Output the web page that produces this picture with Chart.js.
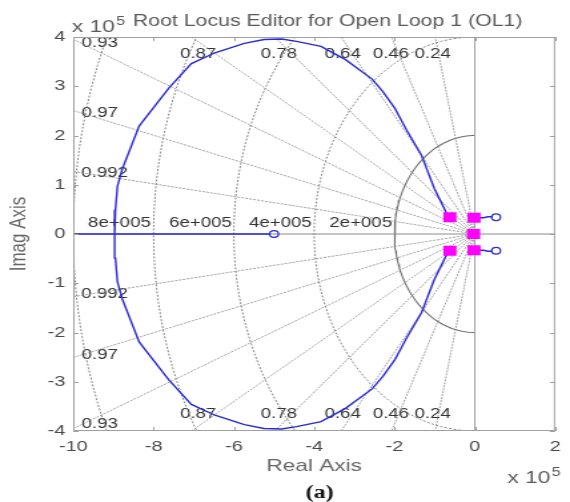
<!DOCTYPE html>
<html><head><meta charset="utf-8">
<script src="https://cdn.jsdelivr.net/npm/chart.js@4.4.1/dist/chart.umd.min.js"></script>
<style>
html,body{margin:0;padding:0;background:#fff;overflow:hidden}
</style></head><body>
<canvas id="c" width="428" height="502" style="display:block;width:570px;height:502px"></canvas>
<script>
// ---------------- data (all values in units of 1e5) ----------------
const xTicks = [-10, -8, -6, -4, -2, 0, 2];
const yTicks = [-4, -3, -2, -1, 0, 1, 2, 3, 4];
const dampingRatios = [0.992, 0.97, 0.93, 0.87, 0.78, 0.64, 0.46, 0.24];
const naturalFreqs = [2, 4, 6, 8, 10];
const solidFreqs = [2];
const freqLabels = ['8e+005', '6e+005', '4e+005', '2e+005'];
// upper locus branch, from complex pole to break-in point
const locusReal = [-0.62, -0.72, -1.01, -1.33, -1.70, -1.99, -2.29, -2.55, -3.22, -3.83, -4.44, -4.81, -5.25, -5.74, -6.47, -7.06, -7.62, -8.36, -8.78, -8.90, -8.95, -8.97];
const locusImag = [0.34, 0.45, 0.93, 1.60, 2.11, 2.55, 2.89, 3.14, 3.54, 3.81, 3.91, 3.96, 3.95, 3.87, 3.68, 3.46, 2.96, 2.19, 1.32, 0.97, 0.49, 0];
const realAxisLocus = [-10, -5.1];
const branchReal = [-0.02, 0.22, 0.32, 0.44];
const branchImag = [0.33, 0.33, 0.35, 0.35];
const polesReal = [-0.62, -0.62, -0.02, -0.02, -0.03];
const polesImag = [0.34, -0.34, 0.33, -0.33, 0.0];
const zerosReal = [-5.0, 0.53, 0.53];
const zerosImag = [0.0, 0.34, -0.34];

// label anchors (data coordinates)
const dampLabelText = ['0.93', '0.87', '0.78', '0.64', '0.46', '0.24', '0.97', '0.992'];
const dampLabelX = [-9.34, -6.89, -4.88, -3.29, -2.09, -1.05, -9.34, -9.22];
const dampLabelY = [3.87, 3.66, 3.66, 3.66, 3.66, 3.66, 2.45, 1.23];
const freqLabelX = [-8.85, -6.83, -4.84, -2.84];
const freqLabelY = 0.22;

// ---------------- styling ----------------
const FONT = '"Liberation Sans", Arial, Helvetica, sans-serif';
const GRID = '#858585';
const BLUE = '#2a2ad8';
const AXIS = '#a0a0a0';
const RAY = 20;

const datasets = [];
dampingRatios.forEach(z => {
  const w = Math.sqrt(1 - z * z);
  [1, -1].forEach(sg => datasets.push({
    data: [{x: 0, y: 0}, {x: -z * RAY, y: sg * w * RAY}],
    showLine: true, borderColor: '#8c8c8c', borderWidth: 0.8, borderDash: [2, 1],
    pointRadius: 0, order: 10
  }));
});
naturalFreqs.forEach(r => {
  const pts = [];
  for (let a = 90; a <= 270; a += 2) {
    const t = a * Math.PI / 180;
    pts.push({x: r * Math.cos(t), y: r * Math.sin(t)});
  }
  const solid = solidFreqs.includes(r);
  datasets.push({
    data: pts, showLine: true, borderColor: solid ? '#6e6e6e' : GRID,
    borderWidth: solid ? 1.1 : 1, borderDash: solid ? [] : [2, 1.5],
    pointRadius: 0, order: 10
  });
});
// axis lines
datasets.push({data: [{x: xTicks[0], y: 0}, {x: xTicks[xTicks.length - 1], y: 0}], showLine: true,
  borderColor: '#8a8a8a', borderWidth: 1, pointRadius: 0, order: 9});
datasets.push({data: [{x: 0, y: yTicks[0]}, {x: 0, y: yTicks[yTicks.length - 1]}], showLine: true,
  borderColor: AXIS, borderWidth: 1, pointRadius: 0, order: 9});
// root locus
const upper = locusReal.map((v, i) => ({x: v, y: locusImag[i]}));
const lower = locusReal.map((v, i) => ({x: v, y: -locusImag[i]}));
[upper, lower].forEach(d => datasets.push({data: d, showLine: true, borderColor: BLUE,
  borderWidth: 1.4, pointRadius: 0, order: 2}));
datasets.push({data: realAxisLocus.map(v => ({x: v, y: 0})), showLine: true, borderColor: BLUE,
  borderWidth: 1.4, pointRadius: 0, order: 2});
[1, -1].forEach(sg => datasets.push({data: branchReal.map((v, i) => ({x: v, y: sg * branchImag[i]})),
  showLine: true, borderColor: BLUE, borderWidth: 1.4, pointRadius: 0, order: 2}));
// poles / zeros
datasets.push({data: polesReal.map((v, i) => ({x: v, y: polesImag[i]})), showLine: false,
  pointStyle: 'rect', pointRadius: 7, backgroundColor: '#ff00ff', borderColor: '#ff00ff', borderWidth: 0, order: 0});
datasets.push({data: zerosReal.map((v, i) => ({x: v, y: zerosImag[i]})), showLine: false,
  pointStyle: 'circle', pointRadius: 3.3, backgroundColor: 'rgba(0,0,0,0)', borderColor: BLUE, borderWidth: 1.2, order: 0});

const decor = {
  id: 'decor',
  beforeDatasetsDraw(chart) {
    const {ctx, scales: {x, y}} = chart;
    ctx.save();
    ctx.fillStyle = '#333';
    ctx.font = '14px ' + FONT;
    ctx.textAlign = 'center';
    ctx.textBaseline = 'middle';
    dampLabelText.forEach((t, i) => {
      ctx.fillText(t, x.getPixelForValue(dampLabelX[i]), y.getPixelForValue(dampLabelY[i]));
      ctx.fillText(t, x.getPixelForValue(dampLabelX[i]), y.getPixelForValue(-dampLabelY[i]));
    });
    freqLabels.forEach((t, i) => ctx.fillText(t, x.getPixelForValue(freqLabelX[i]), y.getPixelForValue(freqLabelY)));
    ctx.restore();
  },
  afterDatasetsDraw(chart) {
    const {ctx, chartArea: a, scales: {x, y}} = chart;
    ctx.save();
    ctx.strokeStyle = AXIS;
    ctx.lineWidth = 1;
    ctx.strokeRect(a.left + 0.5, a.top + 0.5, a.right - a.left - 1, a.bottom - a.top - 1);
    ctx.beginPath();
    const L = 4;
    x.ticks.forEach(t => {
      const px = Math.round(x.getPixelForValue(t.value)) + 0.5;
      ctx.moveTo(px, a.bottom); ctx.lineTo(px, a.bottom - L);
      ctx.moveTo(px, a.top); ctx.lineTo(px, a.top + L);
    });
    y.ticks.forEach(t => {
      const py = Math.round(y.getPixelForValue(t.value)) + 0.5;
      ctx.moveTo(a.left, py); ctx.lineTo(a.left + L, py);
      ctx.moveTo(a.right, py); ctx.lineTo(a.right - L, py);
    });
    ctx.stroke();
    ctx.restore();
  },
  afterDraw(chart) {
    const {ctx} = chart;
    ctx.save();
    ctx.fillStyle = '#5a5a5a';
    ctx.textBaseline = 'middle';
    ctx.textAlign = 'center';
    ctx.font = '16px ' + FONT;
    ctx.fillText('Root Locus Editor for Open Loop 1 (OL1)', 246, 22);
    ctx.textBaseline = 'alphabetic';
    ctx.textAlign = 'left';
    const expo = (x0, base) => {
      ctx.font = '17px ' + FONT;
      ctx.fillText('x 10', x0, base);
      const w = ctx.measureText('x 10').width;
      ctx.font = '12px ' + FONT;
      ctx.fillText('5', x0 + w + 1, base - 7);
    };
    expo(54, 32);
    expo(381, 483);
    ctx.fillStyle = '#111';
    ctx.textAlign = 'center';
    ctx.font = 'bold 18px "Liberation Serif", "Times New Roman", serif';
    ctx.fillText('(a)', 240, 498);
    ctx.restore();
  }
};

new Chart(document.getElementById('c'), {
  type: 'scatter',
  data: {datasets},
  options: {
    responsive: false,
    animation: false,
    events: [],
    layout: {padding: {top: 37, right: 5, left: 0, bottom: 0}},
    plugins: {legend: {display: false}, tooltip: {enabled: false}, title: {display: false}},
    scales: {
      x: {
        type: 'linear', min: xTicks[0], max: xTicks[xTicks.length - 1], position: 'bottom',
        afterBuildTicks: s => { s.ticks = xTicks.map(v => ({value: v})); },
        afterFit: s => { s.height = 71; },
        grid: {display: false, drawTicks: false},
        border: {display: false},
        ticks: {padding: 7, color: '#4a4a4a', font: {family: FONT, size: 15}, maxRotation: 0, autoSkip: false},
        title: {display: true, text: 'Real Axis', color: '#666', font: {family: FONT, size: 17}, padding: {top: 0, bottom: 25}}
      },
      y: {
        type: 'linear', min: yTicks[0], max: yTicks[yTicks.length - 1], position: 'left',
        afterBuildTicks: s => { s.ticks = yTicks.map(v => ({value: v})); },
        afterFit: s => { s.width = 55; },
        grid: {display: false, drawTicks: false},
        border: {display: false},
        ticks: {padding: 6, color: '#4a4a4a', font: {family: FONT, size: 15}, autoSkip: false},
        title: {display: true, text: 'Imag Axis', color: '#666', font: {family: FONT, size: 17}, padding: {top: 4, bottom: 0}}
      }
    }
  },
  plugins: [decor]
});
</script>
</body></html>
